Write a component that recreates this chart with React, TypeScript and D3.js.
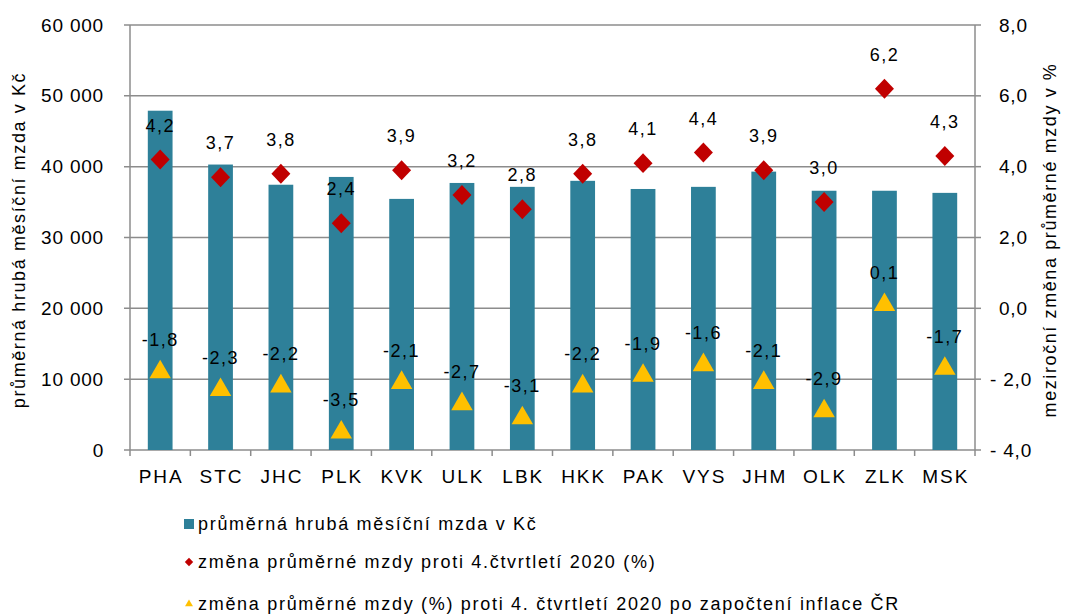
import React from 'react';
import * as d3 from 'd3';

const regions = ['PHA', 'STC', 'JHC', 'PLK', 'KVK', 'ULK', 'LBK', 'HKK', 'PAK', 'VYS', 'JHM', 'OLK', 'ZLK', 'MSK'];
const wages = [47900, 40300, 37450, 38550, 35450, 37700, 37150, 38000, 36850, 37150, 39300, 36600, 36600, 36300];
const nominalChange = [4.2, 3.7, 3.8, 2.4, 3.9, 3.2, 2.8, 3.8, 4.1, 4.4, 3.9, 3.0, 6.2, 4.3];
const realChange = [-1.8, -2.3, -2.2, -3.5, -2.1, -2.7, -3.1, -2.2, -1.9, -1.6, -2.1, -2.9, 0.1, -1.7];
const leftTicks = [0, 10000, 20000, 30000, 40000, 50000, 60000];
const rightTicks = [-4, -2, 0, 2, 4, 6, 8];
const legendLabels = [
  'průměrná hrubá měsíční mzda v Kč',
  'změna průměrné mzdy proti 4.čtvrtletí 2020 (%)',
  'změna průměrné mzdy (%) proti 4. čtvrtletí 2020 po započtení inflace ČR',
];

const W = 1067;
const H = 614;
const left = 130;
const right = 975;
const top = 25;
const bottom = 450;

const font = '"Liberation Sans", Arial, sans-serif';
const barColor = '#2E8099';
const diamondColor = '#C00000';
const triColor = '#FFC000';
const gridColor = '#8C8C8C';

const fmtLeft = (v: number) => d3.format(',')(v).replace(/,/g, ' ');
const fmtRight = (v: number) => (v < 0 ? '- ' : '') + Math.abs(v).toFixed(1).replace('.', ',');
const fmtLabel = (v: number) => v.toFixed(1).replace('.', ',');

const App = () => {
  const x = d3.scaleBand().domain(regions).range([left, right]).paddingInner(0.59).paddingOuter(0.295);
  const xCat = d3.scaleBand().domain(regions).range([left, right]);
  const yL = d3.scaleLinear().domain([0, 60000]).range([bottom, top]);
  const yR = d3.scaleLinear().domain([-4, 8]).range([bottom, top]);
  const diamond = d3.symbol().type(d3.symbolDiamond2).size(230)();
  const triangle = d3.symbol().type(d3.symbolTriangle2).size(330)();
  const mid = (r: string) => xCat(r)! + xCat.bandwidth() / 2;

  return (
    <svg width={W} height={H} style={{ position: 'absolute', left: 0, top: 0, background: '#fff' }} fontFamily={font}>
      {leftTicks.map(t => (
        <line key={'g' + t} x1={left - 6} x2={right} y1={yL(t)} y2={yL(t)} stroke={gridColor} strokeWidth={1.5} />
      ))}
      {rightTicks.map(t => (
        <line key={'rt' + t} x1={right} x2={right + 6} y1={yR(t)} y2={yR(t)} stroke={gridColor} strokeWidth={1.5} />
      ))}
      <line x1={left} x2={left} y1={top} y2={bottom} stroke={gridColor} strokeWidth={1.5} />
      <line x1={right} x2={right} y1={top} y2={bottom} stroke={gridColor} strokeWidth={1.5} />
      {regions.map(r => (
        <line key={'xt' + r} x1={xCat(r)!} x2={xCat(r)!} y1={bottom} y2={bottom + 6} stroke={gridColor} strokeWidth={1.5} />
      ))}
      <line x1={right} x2={right} y1={bottom} y2={bottom + 6} stroke={gridColor} strokeWidth={1.5} />

      {regions.map((r, i) => (
        <rect key={'b' + r} x={x(r)!} y={yL(wages[i])} width={x.bandwidth()} height={bottom - yL(wages[i])} fill={barColor} />
      ))}

      {regions.map((r, i) => (
        <g key={'d' + r}>
          <path d={diamond!} transform={`translate(${mid(r)},${yR(nominalChange[i])}) scale(1,1.05)`} fill={diamondColor} />
          <text x={mid(r)} y={yR(nominalChange[i]) - 28} textAnchor="middle" fontSize={18} letterSpacing={1.5} fill="#000">{fmtLabel(nominalChange[i])}</text>
        </g>
      ))}
      {regions.map((r, i) => (
        <g key={'t' + r}>
          <path d={triangle!} transform={`translate(${mid(r)},${yR(realChange[i])})`} fill={triColor} />
          <text x={mid(r)} y={yR(realChange[i]) - 26} textAnchor="middle" fontSize={18} letterSpacing={1.5} fill="#000">{fmtLabel(realChange[i])}</text>
        </g>
      ))}

      {leftTicks.map(t => (
        <text key={'lt' + t} x={104} y={yL(t)} dy="0.35em" textAnchor="end" fontSize={19} letterSpacing={0.8} fill="#000">{fmtLeft(t)}</text>
      ))}
      {rightTicks.map(t => (
        <text key={'rl' + t} x={t < 0 ? 990 : 999} y={yR(t)} dy="0.35em" textAnchor="start" fontSize={19} letterSpacing={0.8} fill="#000">{fmtRight(t)}</text>
      ))}
      {regions.map(r => (
        <text key={'xl' + r} x={mid(r) + 1} y={483} textAnchor="middle" fontSize={19} fill="#000" letterSpacing={2}>{r}</text>
      ))}

      <text transform={`translate(25,240) rotate(-90)`} textAnchor="middle" fontSize={18} letterSpacing={1.6} fill="#000">
        průměrná hrubá měsíční mzda v Kč
      </text>
      <text transform={`translate(1056,240) rotate(-90)`} textAnchor="middle" fontSize={18} letterSpacing={1.6} fill="#000">
        meziroční změna průměrné mzdy v %
      </text>

      <rect x={184} y={519} width={10} height={10} fill={barColor} />
      <path d={d3.symbol().type(d3.symbolDiamond2).size(45)()!} transform="translate(189,562)" fill={diamondColor} />
      <path d={d3.symbol().type(d3.symbolTriangle2).size(45)()!} transform="translate(189,604)" fill={triColor} />
      {legendLabels.map((l, i) => (
        <text key={'lg' + i} x={198} y={[524, 562, 604][i]} dy="0.35em" fontSize={18} letterSpacing={1.7} fill="#000">{l}</text>
      ))}
    </svg>
  );
};

export default App;
